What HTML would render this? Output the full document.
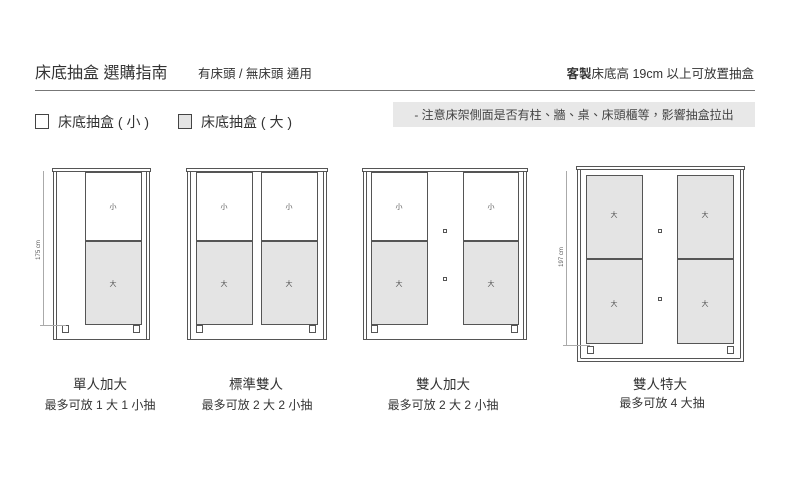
<!DOCTYPE html>
<html><head><meta charset="utf-8"><style>
html,body{margin:0;padding:0;background:#fff;width:800px;height:488px;overflow:hidden}
svg{display:block;font-family:"Liberation Sans","Noto Sans CJK TC",sans-serif}
</style></head><body>
<svg width="800" height="488" viewBox="0 0 800 488" xmlns="http://www.w3.org/2000/svg">
<g fill="#333">
<text x="35" y="78" font-size="16">床底抽盒 選購指南</text>
<text x="198" y="78" font-size="12.5">有床頭 / 無床頭 通用</text>
<text x="754" y="78" font-size="12.5" text-anchor="end"><tspan font-weight="bold">客製</tspan>床底高 19cm 以上可放置抽盒</text>
</g>
<line x1="35" y1="90.5" x2="755" y2="90.5" stroke="#777" stroke-width="1"/>
<rect x="35.5" y="114.5" width="13" height="14" fill="#fff" stroke="#444"/>
<text x="58" y="127" font-size="14" fill="#333">床底抽盒 ( 小 )</text>
<rect x="178.5" y="114.5" width="13" height="14" fill="#e4e4e4" stroke="#444"/>
<text x="201" y="127" font-size="14" fill="#333">床底抽盒 ( 大 )</text>
<rect x="393" y="102" width="362" height="25" fill="#e8e8e8"/>
<text x="574" y="119" font-size="12" fill="#444" text-anchor="middle">- 注意床架側面是否有柱、牆、桌、床頭櫃等，影響抽盒拉出</text>

<g fill="none" stroke="#555" stroke-width="1">
<!-- bed1 -->
<rect x="52.5" y="168.5" width="98" height="3" fill="#fff"/>
<rect x="53.5" y="171.5" width="96" height="168"/>
<line x1="56.5" y1="172" x2="56.5" y2="339"/><line x1="146.5" y1="172" x2="146.5" y2="339"/>
<rect x="85.5" y="172.5" width="56" height="68" fill="#fff"/>
<rect x="85.5" y="241.5" width="56" height="83" fill="#e4e4e4"/>
<rect x="62.5" y="325.5" width="6" height="7" fill="#fff"/><rect x="133.5" y="325.5" width="6" height="7" fill="#fff"/>
<!-- bed2 -->
<rect x="186.5" y="168.5" width="141" height="3" fill="#fff"/>
<rect x="187.5" y="171.5" width="139" height="168"/>
<line x1="190.5" y1="172" x2="190.5" y2="339"/><line x1="323.5" y1="172" x2="323.5" y2="339"/>
<rect x="196.5" y="172.5" width="56" height="68" fill="#fff"/><rect x="196.5" y="241.5" width="56" height="83" fill="#e4e4e4"/>
<rect x="261.5" y="172.5" width="56" height="68" fill="#fff"/><rect x="261.5" y="241.5" width="56" height="83" fill="#e4e4e4"/>
<rect x="196.5" y="325.5" width="6" height="7" fill="#fff"/><rect x="309.5" y="325.5" width="6" height="7" fill="#fff"/>
<!-- bed3 -->
<rect x="362.5" y="168.5" width="165" height="3" fill="#fff"/>
<rect x="363.5" y="171.5" width="163" height="168"/>
<line x1="366.5" y1="172" x2="366.5" y2="339"/><line x1="523.5" y1="172" x2="523.5" y2="339"/>
<rect x="371.5" y="172.5" width="56" height="68" fill="#fff"/><rect x="371.5" y="241.5" width="56" height="83" fill="#e4e4e4"/>
<rect x="463.5" y="172.5" width="55" height="68" fill="#fff"/><rect x="463.5" y="241.5" width="55" height="83" fill="#e4e4e4"/>
<rect x="371.5" y="325.5" width="6" height="7" fill="#fff"/><rect x="511.5" y="325.5" width="6" height="7" fill="#fff"/>
<rect x="443.5" y="229.5" width="3" height="3"/><rect x="443.5" y="277.5" width="3" height="3"/>
<!-- bed4 -->
<rect x="576.5" y="166.5" width="168" height="3" fill="#fff"/>
<rect x="577.5" y="169.5" width="166" height="192"/>
<line x1="580.5" y1="170" x2="580.5" y2="358"/><line x1="740.5" y1="170" x2="740.5" y2="358"/>
<line x1="580.5" y1="358.5" x2="740.5" y2="358.5"/>
<rect x="586.5" y="175.5" width="56" height="83" fill="#e4e4e4"/><rect x="586.5" y="259.5" width="56" height="84" fill="#e4e4e4"/>
<rect x="677.5" y="175.5" width="56" height="83" fill="#e4e4e4"/><rect x="677.5" y="259.5" width="56" height="84" fill="#e4e4e4"/>
<rect x="587.5" y="346.5" width="6" height="7" fill="#fff"/><rect x="727.5" y="346.5" width="6" height="7" fill="#fff"/>
<rect x="658.5" y="229.5" width="3" height="3"/><rect x="658.5" y="297.5" width="3" height="3"/>
</g>
<g stroke="#aaa" stroke-width="1">
<line x1="43.5" y1="171" x2="43.5" y2="325"/><line x1="40" y1="325.5" x2="66" y2="325.5"/>
<line x1="566.5" y1="171" x2="566.5" y2="345"/><line x1="563" y1="345.5" x2="590" y2="345.5"/>
</g>
<g font-size="6" fill="#555">
<text transform="translate(40,250) rotate(-90)" text-anchor="middle">175 cm</text>
<text transform="translate(563,257) rotate(-90)" text-anchor="middle">197 cm</text>
</g>
<g font-size="7" fill="#555" text-anchor="middle">
<text x="113" y="209">小</text><text x="113" y="286">大</text>
<text x="224" y="209">小</text><text x="224" y="286">大</text>
<text x="289" y="209">小</text><text x="289" y="286">大</text>
<text x="399" y="209">小</text><text x="399" y="286">大</text>
<text x="491" y="209">小</text><text x="491" y="286">大</text>
<text x="614" y="217">大</text><text x="614" y="306">大</text>
<text x="705" y="217">大</text><text x="705" y="306">大</text>
</g>
<g fill="#333" text-anchor="middle">
<g font-size="13.5">
<text x="100" y="389">單人加大</text><text x="256" y="389">標準雙人</text>
<text x="443" y="389">雙人加大</text><text x="660" y="389">雙人特大</text>
</g>
<g font-size="12">
<text x="100" y="409">最多可放 1 大 1 小抽</text><text x="257" y="409">最多可放 2 大 2 小抽</text>
<text x="443" y="409">最多可放 2 大 2 小抽</text><text x="662" y="407">最多可放 4 大抽</text>
</g>
</g>
</svg>
</body></html>
